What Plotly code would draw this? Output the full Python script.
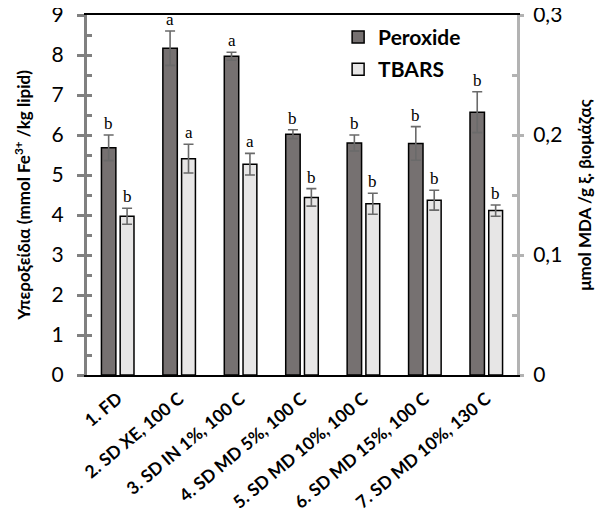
import plotly.graph_objects as go

categories = ["1. FD", "2. SD XE, 100 C", "3. SD IN 1%, 100 C", "4. SD MD 5%, 100 C",
              "5. SD MD 10%, 100 C", "6. SD MD 15%, 100 C", "7. SD MD 10%, 130 C"]
peroxide = [5.68, 8.17, 7.97, 6.02, 5.80, 5.79, 6.57]
peroxide_err = [0.32, 0.43, 0.10, 0.11, 0.20, 0.42, 0.51]
peroxide_letters = ["b", "a", "a", "b", "b", "b", "b"]
tbars = [0.1323, 0.1803, 0.1757, 0.1480, 0.1427, 0.1457, 0.1370]
tbars_err = [0.0067, 0.0120, 0.0090, 0.0073, 0.0087, 0.0083, 0.0047]
tbars_letters = ["b", "a", "a", "b", "b", "b", "b"]
left_ticks = [0, 1, 2, 3, 4, 5, 6, 7, 8, 9]
right_tickvals = [0, 0.1, 0.2, 0.3]
right_ticktext = ["0", "0,1", "0,2", "0,3"]

idx = list(range(len(categories)))
FONT = "Lato, 'Open Sans', sans-serif"
LGRAY = "#808080"
RGRAY = "#b3b3b3"

fig = go.Figure()
fig.add_trace(go.Bar(
    x=idx, y=peroxide, name="<b>Peroxide</b>", yaxis="y", width=0.235, offset=-0.265,
    marker=dict(color="#767171", line=dict(color="#000000", width=1.5)),
    error_y=dict(type="data", array=peroxide_err, visible=True, color="#6a6a6a", thickness=1.6, width=5),
    legendgroup="a"))
fig.add_trace(go.Bar(
    x=idx, y=tbars, name="<b>TBARS</b>", yaxis="y2", width=0.225, offset=0.04,
    marker=dict(color="#e7e6e6", line=dict(color="#000000", width=1.5)),
    error_y=dict(type="data", array=tbars_err, visible=True, color="#6a6a6a", thickness=1.6, width=5),
    legendgroup="b"))
# invisible helpers so the inner tick axes are drawn
fig.add_trace(go.Scatter(x=[0], y=[0], yaxis="y3", mode="markers", marker=dict(opacity=0),
                         showlegend=False, hoverinfo="skip"))
fig.add_trace(go.Scatter(x=[0], y=[0], yaxis="y4", mode="markers", marker=dict(opacity=0),
                         showlegend=False, hoverinfo="skip"))

ann = []
for i in idx:
    ann.append(dict(x=i - 0.265 + 0.1175, y=peroxide[i] + peroxide_err[i], xref="x", yref="y",
                    text=peroxide_letters[i], showarrow=False, yanchor="bottom", yshift=0,
                    font=dict(family="Liberation Serif, serif", size=17, color="#000")))
    ann.append(dict(x=i + 0.04 + 0.1125, y=tbars[i] + tbars_err[i], xref="x", yref="y2",
                    text=tbars_letters[i], showarrow=False, yanchor="bottom", yshift=0,
                    font=dict(family="Liberation Serif, serif", size=17, color="#000")))

# the page body adds an 8px offset, so the figure is 8px smaller and margins shifted
fig.update_layout(
    template="none",
    width=597, height=509,
    margin=dict(l=79, r=88, t=7, b=142),
    paper_bgcolor="white", plot_bgcolor="white",
    showlegend=True,
    legend=dict(x=0.584, y=0.995, xanchor="left", yanchor="top", bgcolor="rgba(0,0,0,0)",
                font=dict(family=FONT, size=21, color="#000"), tracegroupgap=2,
                traceorder="grouped", itemwidth=30),
    font=dict(family=FONT, color="#000"),
    xaxis=dict(range=[-0.5, 6.5], tickmode="array", tickvals=idx,
               ticktext=["<b>" + c + "</b>" for c in categories],
               tickangle=-40, tickfont=dict(family=FONT, size=17.5, color="#000"),
               ticklabelstandoff=5,
               showline=True, linecolor="#000", linewidth=1.5, mirror=True,
               showgrid=False, zeroline=False, ticks="", automargin=False),
    yaxis=dict(range=[0, 9], tickmode="array", tickvals=left_ticks, showgrid=False, zeroline=False,
               showline=True, linecolor=LGRAY, linewidth=3,
               ticks="outside", ticklen=7, tickwidth=3, tickcolor=LGRAY,
               ticklabelstandoff=9, ticklabeloverflow="allow", automargin=False,
               tickfont=dict(family=FONT, size=21, color="#000"),
               title=dict(text="<b>Υπεροξείδια (mmol Fe<sup>3+</sup> /kg lipid)</b>",
                          font=dict(family=FONT, size=17, color="#000"), standoff=17)),
    yaxis3=dict(range=[0, 9], overlaying="y", side="left", anchor="x", showgrid=False,
                zeroline=False, showline=False, showticklabels=False, dtick=1, automargin=False,
                ticks="inside", ticklen=5, tickwidth=3, tickcolor=LGRAY,
                minor=dict(dtick=0.5, ticks="inside", ticklen=5, tickwidth=3, tickcolor=LGRAY)),
    yaxis2=dict(range=[0, 0.3], tickmode="array", tickvals=right_tickvals, ticktext=right_ticktext,
                overlaying="y", side="right", anchor="x",
                showgrid=False, zeroline=False, automargin=False,
                showline=True, linecolor=RGRAY, linewidth=3,
                ticks="outside", ticklen=4, tickwidth=3, tickcolor=RGRAY,
                ticklabelstandoff=5, ticklabeloverflow="allow",
                tickfont=dict(family=FONT, size=21, color="#000"),
                title=dict(text="<b>μmol MDA /g ξ. βιομάζας</b>",
                           font=dict(family=FONT, size=17, color="#000"), standoff=18)),
    yaxis4=dict(range=[0, 0.3], overlaying="y", side="right", anchor="x", showgrid=False,
                zeroline=False, showline=False, showticklabels=False, dtick=0.1, automargin=False,
                ticks="inside", ticklen=5, tickwidth=3, tickcolor=RGRAY,
                minor=dict(dtick=0.05, ticks="inside", ticklen=5, tickwidth=3, tickcolor=RGRAY)),
    annotations=ann,
)
fig.write_html("out.html")
